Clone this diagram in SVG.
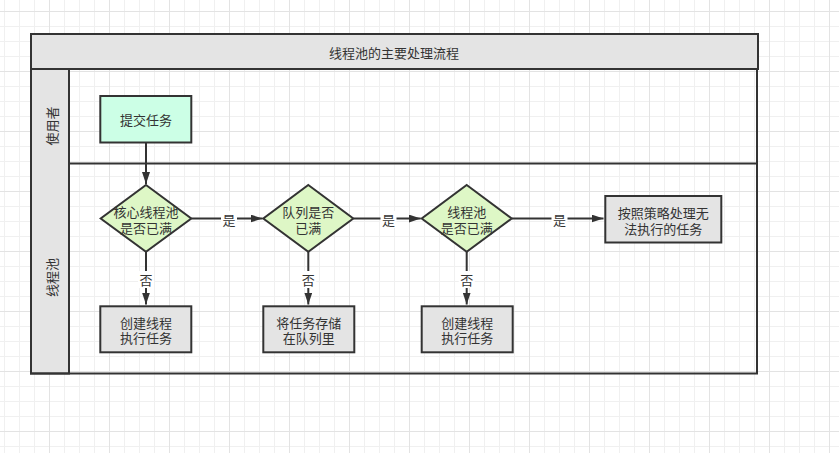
<svg xmlns="http://www.w3.org/2000/svg" width="839" height="453" viewBox="0 0 839 453">
<defs>
<pattern id="minor" x="4" y="11" width="15" height="15" patternUnits="userSpaceOnUse"><path d="M0.5 0V15M0 0.5H15" stroke="#f0f0f0" stroke-width="1" fill="none"/></pattern>
<pattern id="major" x="49" y="11" width="60" height="60" patternUnits="userSpaceOnUse"><path d="M0.5 0V60M0 0.5H60" stroke="#e3e3e3" stroke-width="1" fill="none"/></pattern>
<marker id="arr" markerWidth="12" markerHeight="8" refX="12" refY="4" orient="auto" markerUnits="userSpaceOnUse"><path d="M0 0L12 4L0 8Z" fill="#333"/></marker>
<style>
text{font-family:"Noto Sans CJK SC","Noto Sans",sans-serif;font-size:13px;fill:#333;text-anchor:middle;dominant-baseline:central}
.sh{stroke:#333;stroke-width:2}
.gray{fill:#e4e4e4}
.start{fill:#ccffe6}
.dec{fill:#def7c6}
.edge{fill:none;stroke:#333;stroke-width:2;marker-end:url(#arr)}
.lbl{fill:#fff}
</style>
</defs>
<rect width="839" height="453" fill="#fff"/>
<rect width="839" height="453" fill="url(#minor)"/>
<rect width="839" height="453" fill="url(#major)"/>

<g id="pool">
<rect x="31" y="34" width="727" height="35" class="gray sh"/>
<text x="394" y="52.5">线程池的主要处理流程</text>
<rect x="31" y="69" width="38" height="304.5" class="gray sh"/>
<rect x="31" y="69" width="726" height="304.5" fill="none" class="sh"/>
<line x1="69" y1="163.5" x2="757" y2="163.5" class="sh"/>
<text x="51" y="126" transform="rotate(-90 51 126)">使用者</text>
<text x="51" y="277.5" transform="rotate(-90 51 277.5)">线程池</text>
</g>

<g id="edges">
<path class="edge" d="M146 143V184"/>
<path class="edge" d="M191.3 218.5H262.5"/>
<path class="edge" d="M353.3 218.5H420.7"/>
<path class="edge" d="M511.7 218.5H603.5"/>
<path class="edge" d="M146 251.7V304.5"/>
<path class="edge" d="M308.3 251.7V304.5"/>
<path class="edge" d="M466.7 251.7V304.5"/>
<rect class="lbl" x="221" y="211" width="16" height="17"/>
<text x="229" y="219.5">是</text>
<rect class="lbl" x="380.5" y="211" width="16" height="17"/>
<text x="388.5" y="219.5">是</text>
<rect class="lbl" x="551.5" y="211" width="16" height="17"/>
<text x="559.5" y="219.5">是</text>
<rect class="lbl" x="138" y="271" width="16" height="17"/>
<text x="146" y="279.5">否</text>
<rect class="lbl" x="300.3" y="271" width="16" height="17"/>
<text x="308.3" y="279.5">否</text>
<rect class="lbl" x="458.7" y="271" width="16" height="17"/>
<text x="466.7" y="279.5">否</text>
</g>

<g id="submit">
<rect x="100.3" y="96" width="91" height="46.5" class="start sh"/>
<text x="146" y="119">提交任务</text>
</g>

<g id="d1">
<path d="M146 185L191.3 218.5L146 251.7L100.7 218.5Z" class="dec sh"/>
<text x="146" y="211"><tspan x="146">核心线程池</tspan><tspan x="146" dy="15.5">是否已满</tspan></text>
</g>

<g id="d2">
<path d="M308.3 185L353.3 218.5L308.3 251.7L263.3 218.5Z" class="dec sh"/>
<text x="308.3" y="211"><tspan x="308.3">队列是否</tspan><tspan x="308.3" dy="15.5">已满</tspan></text>
</g>

<g id="d3">
<path d="M466.7 185L511.7 218.5L466.7 251.7L421.7 218.5Z" class="dec sh"/>
<text x="466.7" y="211"><tspan x="466.7">线程池</tspan><tspan x="466.7" dy="15.5">是否已满</tspan></text>
</g>

<g id="reject">
<rect x="605.3" y="196" width="116" height="46.5" class="gray sh"/>
<text x="663.3" y="211.5"><tspan x="663.3">按照策略处理无</tspan><tspan x="663.3" dy="16">法执行的任务</tspan></text>
</g>

<g id="create1">
<rect x="100.3" y="306.3" width="91" height="46" class="gray sh"/>
<text x="146" y="321.5"><tspan x="146">创建线程</tspan><tspan x="146" dy="15">执行任务</tspan></text>
</g>

<g id="queue">
<rect x="263.3" y="306.3" width="91" height="46" class="gray sh"/>
<text x="308.8" y="321.5"><tspan x="308.8">将任务存储</tspan><tspan x="308.8" dy="15">在队列里</tspan></text>
</g>

<g id="create2">
<rect x="421.7" y="306.3" width="91" height="46" class="gray sh"/>
<text x="467.2" y="321.5"><tspan x="467.2">创建线程</tspan><tspan x="467.2" dy="15">执行任务</tspan></text>
</g>
</svg>
